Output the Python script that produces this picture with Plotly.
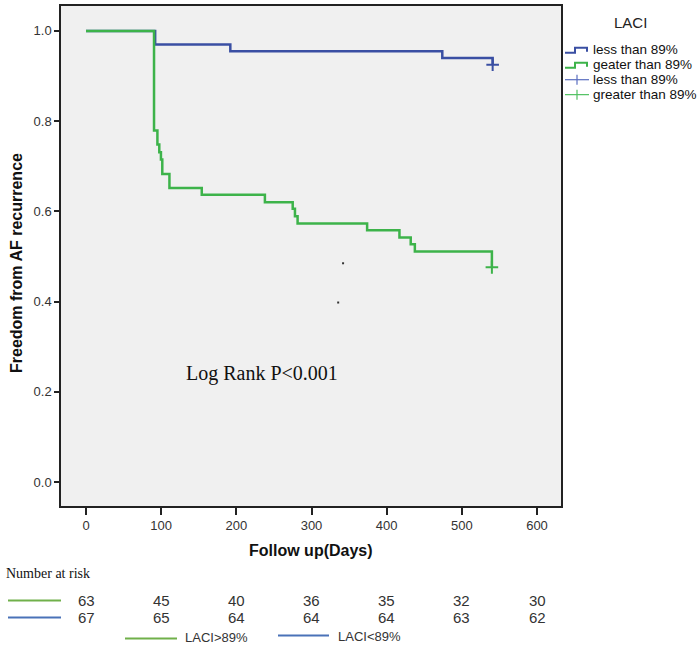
import plotly.graph_objects as go

# ---- data ----
blue_t = [0, 92, 192, 474, 541]
blue_s = [1.0, 0.970, 0.955, 0.940, 0.925]
green_t = [0, 90.5, 95, 97.5, 99.7, 101.5, 111, 154, 238, 275, 278, 281.5, 374, 417, 432, 437.5, 540]
green_s = [1.0, 0.779, 0.748, 0.731, 0.715, 0.683, 0.652, 0.637, 0.620, 0.606, 0.589, 0.573, 0.558, 0.542, 0.527, 0.511, 0.476]
blue_cens_t = [541]
blue_cens_s = [0.925]
green_cens_t = [540]
green_cens_s = [0.476]
artifact_x = [342, 335.5]
artifact_y = [0.485, 0.398]

risk_times = [0, 100, 200, 300, 400, 500, 600]
risk_green = [63, 45, 40, 36, 35, 32, 30]
risk_blue = [67, 65, 64, 64, 64, 63, 62]

x_ticks = [0, 100, 200, 300, 400, 500, 600]
y_ticks = [0.0, 0.2, 0.4, 0.6, 0.8, 1.0]

BLUE = "#3A4FA3"
GREEN = "#3DB34A"
ROW_GREEN = "#70B04A"
ROW_BLUE = "#4A72B8"

# plot area in pixels
L, R, T, B = 61, 561, 4, 506
W, H = 697, 647


def px(x):
    return (x - L) / (R - L)


def py(y):
    return (B - y) / (B - T)


fig = go.Figure()
fig.add_trace(go.Scatter(x=blue_t, y=blue_s, mode="lines", line=dict(color=BLUE, width=2.5, shape="hv"),
                         showlegend=False, hoverinfo="skip"))
fig.add_trace(go.Scatter(x=green_t, y=green_s, mode="lines", line=dict(color=GREEN, width=2.5, shape="hv"),
                         showlegend=False, hoverinfo="skip"))
fig.add_trace(go.Scatter(x=blue_cens_t, y=blue_cens_s, mode="markers",
                         marker=dict(symbol="cross-thin", size=9, line=dict(color=BLUE, width=2)),
                         showlegend=False, hoverinfo="skip"))
fig.add_trace(go.Scatter(x=green_cens_t, y=green_cens_s, mode="markers",
                         marker=dict(symbol="cross-thin", size=9, line=dict(color=GREEN, width=2)),
                         showlegend=False, hoverinfo="skip"))
fig.add_trace(go.Scatter(x=artifact_x, y=artifact_y, mode="markers",
                         marker=dict(symbol="square", size=2, color="#333333"),
                         showlegend=False, hoverinfo="skip"))

shapes = []
annotations = []

# custom legend
annotations.append(dict(x=px(630), y=py(21), xref="paper", yref="paper", text="LACI", showarrow=False,
                        font=dict(family="Liberation Sans, Arial", size=15, color="#222"),
                        xanchor="center", yanchor="middle"))
legend_rows = [(48, BLUE, "step", "less than 89%"), (63, GREEN, "step", "geater than 89%"),
               (78, "#5A6EC0", "cross", "less than 89%"), (93, "#4FC060", "cross", "greater than 89%")]
for yc, col, kind, label in legend_rows:
    if kind == "step":
        pts = [(565, yc + 3), (575, yc + 3), (575, yc - 2), (587, yc - 2), (587, yc + 2)]
        path = "M " + " L ".join(f"{px(a)},{py(b)}" for a, b in pts)
        shapes.append(dict(type="path", xref="paper", yref="paper", path=path,
                           line=dict(color=col, width=2)))
    else:
        shapes.append(dict(type="line", xref="paper", yref="paper", x0=px(565), x1=px(589),
                           y0=py(yc), y1=py(yc), line=dict(color=col, width=1.2)))
        shapes.append(dict(type="line", xref="paper", yref="paper", x0=px(577), x1=px(577),
                           y0=py(yc - 5), y1=py(yc + 5), line=dict(color=col, width=1.2)))
    annotations.append(dict(x=px(591), y=py(yc), xref="paper", yref="paper", text=label, showarrow=False,
                            font=dict(family="Liberation Sans, Arial", size=13.5, color="#111"),
                            xanchor="left", yanchor="middle"))

# axis titles
annotations.append(dict(x=px(311), y=py(551), xref="paper", yref="paper", text="<b>Follow up(Days)</b>",
                        showarrow=False, font=dict(family="Liberation Sans, Arial", size=16, color="#111"),
                        xanchor="center", yanchor="middle"))
annotations.append(dict(x=px(17), y=py(262), xref="paper", yref="paper", text="<b>Freedom from AF recurrence</b>",
                        showarrow=False, textangle=-90,
                        font=dict(family="Liberation Sans, Arial", size=16, color="#111"),
                        xanchor="center", yanchor="middle"))

# log rank text
annotations.append(dict(x=px(262), y=py(373), xref="paper", yref="paper", text="Log Rank P<0.001",
                        showarrow=False, font=dict(family="Liberation Serif, Times New Roman", size=20, color="#111"),
                        xanchor="center", yanchor="middle"))

# number at risk table
annotations.append(dict(x=px(4), y=py(574), xref="paper", yref="paper", text="Number at risk",
                        showarrow=False, font=dict(family="Liberation Serif, Times New Roman", size=14, color="#111"),
                        xanchor="left", yanchor="middle"))
shapes.append(dict(type="line", xref="paper", yref="paper", x0=px(8), x1=px(61), y0=py(601), y1=py(601),
                   line=dict(color=ROW_GREEN, width=2)))
shapes.append(dict(type="line", xref="paper", yref="paper", x0=px(8), x1=px(61), y0=py(618), y1=py(618),
                   line=dict(color=ROW_BLUE, width=2)))
for t, g, b in zip(risk_times, risk_green, risk_blue):
    annotations.append(dict(x=t, y=py(601), xref="x", yref="paper", text=str(g), showarrow=False,
                            font=dict(family="Liberation Sans, Arial", size=15, color="#333"),
                            xanchor="center", yanchor="middle"))
    annotations.append(dict(x=t, y=py(618), xref="x", yref="paper", text=str(b), showarrow=False,
                            font=dict(family="Liberation Sans, Arial", size=15, color="#333"),
                            xanchor="center", yanchor="middle"))
shapes.append(dict(type="line", xref="paper", yref="paper", x0=px(125), x1=px(177), y0=py(639), y1=py(639),
                   line=dict(color=ROW_GREEN, width=2)))
annotations.append(dict(x=px(183), y=py(638), xref="paper", yref="paper", text="LACI>89%", showarrow=False,
                        font=dict(family="Liberation Sans, Arial", size=13, color="#333"),
                        xanchor="left", yanchor="middle"))
shapes.append(dict(type="line", xref="paper", yref="paper", x0=px(278), x1=px(329), y0=py(636), y1=py(636),
                   line=dict(color=ROW_BLUE, width=2)))
annotations.append(dict(x=px(336), y=py(637), xref="paper", yref="paper", text="LACI<89%", showarrow=False,
                        font=dict(family="Liberation Sans, Arial", size=13, color="#333"),
                        xanchor="left", yanchor="middle"))

x_per_px = 600 / (537 - 86)
y_per_px = 1.0 / (482 - 29)
xr = [0 - (86 - L) * x_per_px, 0 + (R - 86) * x_per_px]
yr = [0 - (B - 482) * y_per_px, 1.0 + (29 - T) * y_per_px]

fig.update_layout(
    width=W, height=H,
    margin=dict(l=L, r=W - R, t=T, b=H - B, pad=0),
    paper_bgcolor="white", plot_bgcolor="#F0F0F0",
    shapes=shapes, annotations=annotations,
    xaxis=dict(range=xr, tickvals=x_ticks, ticktext=[str(v) for v in x_ticks], showgrid=False, zeroline=False,
               showline=True, mirror=True, linecolor="#222", linewidth=1.5, ticks="outside", ticklen=7,
               tickcolor="#222", tickwidth=1.5,
               tickfont=dict(family="Liberation Sans, Arial", size=13, color="#333")),
    yaxis=dict(range=yr, tickvals=y_ticks, ticktext=[f"{v:.1f}" for v in y_ticks], showgrid=False, zeroline=False,
               showline=True, mirror=True, linecolor="#222", linewidth=1.5, ticks="outside", ticklen=5,
               tickcolor="#222", tickwidth=1.5,
               tickfont=dict(family="Liberation Sans, Arial", size=13, color="#333")),
)

fig.write_html("out.html")
